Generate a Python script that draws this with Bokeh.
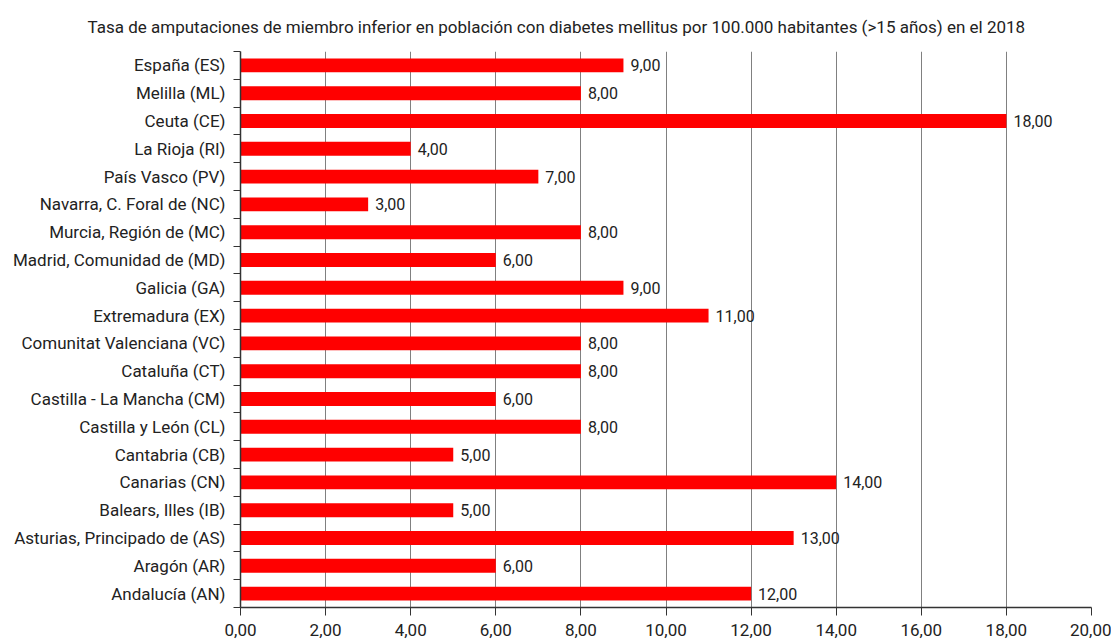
from bokeh.plotting import figure
from bokeh.models import FixedTicker, Range1d, ColumnDataSource, Title
from bokeh.embed import file_html
from bokeh.resources import INLINE
from bokeh.core.properties import value

title_text = "Tasa de amputaciones de miembro inferior en población con diabetes mellitus por 100.000 habitantes (>15 años) en el 2018"
categories = ["España (ES)", "Melilla (ML)", "Ceuta (CE)", "La Rioja (RI)", "País Vasco (PV)",
              "Navarra, C. Foral de (NC)", "Murcia, Región de (MC)", "Madrid, Comunidad de (MD)",
              "Galicia (GA)", "Extremadura (EX)", "Comunitat Valenciana (VC)", "Cataluña (CT)",
              "Castilla - La Mancha (CM)", "Castilla y León (CL)", "Cantabria (CB)", "Canarias (CN)",
              "Balears, Illes (IB)", "Asturias, Principado de (AS)", "Aragón (AR)", "Andalucía (AN)"]
values = [9, 8, 18, 4, 7, 3, 8, 6, 9, 11, 8, 8, 6, 8, 5, 14, 5, 13, 6, 12]
x_ticks = [0, 2, 4, 6, 8, 10, 12, 14, 16, 18, 20]

FONT = "Roboto"
n = len(categories)
ypos = [n - 0.5 - i for i in range(n)]
labels = [f"{v:.2f}".replace(".", ",") for v in values]

src = ColumnDataSource(dict(y=ypos, v=values, lab=labels, cat=categories))

p = figure(output_backend="svg", toolbar_location=None,
           frame_width=851, frame_height=556,
           x_range=Range1d(0, 20), y_range=Range1d(0, n),
           min_border_left=240, min_border_right=20,
           min_border_top=50, min_border_bottom=34)
p.outline_line_color = None
p.background_fill_color = "white"

p.add_layout(Title(text=title_text, align="left", offset=-153,
                   text_font=FONT, text_font_size="17px", text_font_style="normal",
                   text_color="#222222", standoff=29), "above")

p.hbar(y="y", right="v", left=0, height=0.5, source=src,
       fill_color="#FF0000", line_color=None)
p.text(x="v", y="y", text="lab", source=src, x_offset=7,
       text_baseline="middle", text_align="left",
       text_font=value(FONT), text_font_size="16px", text_color="#222222")

# x axis
p.xaxis.ticker = FixedTicker(ticks=x_ticks)
p.xaxis.major_label_overrides = {t: f"{t:.2f}".replace(".", ",") for t in x_ticks}
p.xaxis.major_tick_out = 8
p.xaxis.major_tick_in = 0
p.xaxis.minor_tick_out = 0
p.xaxis.minor_tick_in = 0
p.xaxis.axis_line_color = "#333333"
p.xaxis.axis_line_width = 1.5
p.xaxis.major_tick_line_color = "#333333"
p.xaxis.major_label_text_font = FONT
p.xaxis.major_label_text_font_size = "17px"
p.xaxis.major_label_text_color = "#222222"
p.xaxis.major_label_standoff = 8

# y axis
p.yaxis.ticker = FixedTicker(ticks=ypos, minor_ticks=list(range(n + 1)))
p.yaxis.major_label_overrides = {y: c for y, c in zip(ypos, categories)}
p.yaxis.major_tick_out = 0
p.yaxis.major_tick_in = 0
p.yaxis.minor_tick_out = 7
p.yaxis.minor_tick_in = 0
p.yaxis.minor_tick_line_color = "#333333"
p.yaxis.axis_line_color = "#333333"
p.yaxis.axis_line_width = 1.5
p.yaxis.major_label_text_font = FONT
p.yaxis.major_label_text_font_size = "17px"
p.yaxis.major_label_text_color = "#222222"
p.yaxis.major_label_standoff = 8

p.xgrid.grid_line_color = "#808080"
p.xgrid.grid_line_width = 1
p.ygrid.grid_line_color = None

open("out.html", "w").write(file_html(p, INLINE))
